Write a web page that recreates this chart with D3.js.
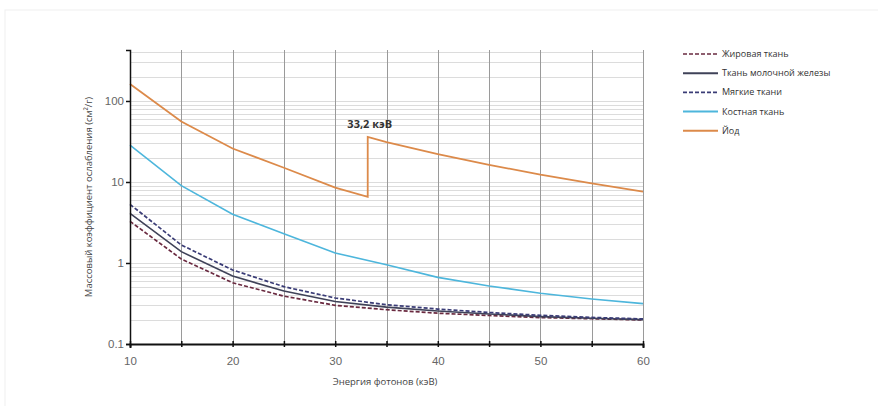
<!DOCTYPE html>
<html>
<head>
<meta charset="utf-8">
<script src="https://cdn.jsdelivr.net/npm/d3@7"></script>
<style>
    body { margin: 0; background: #fff; font-family: "Open Sans", "DejaVu Sans", sans-serif; }
    .grid-minor line { stroke: #dcdcdc; stroke-width: 1; }
    .grid-x line { stroke: #9a9a9a; stroke-width: 1; }
    .axis text { fill: #666; font-size: 11.5px; }
    .legend text { fill: #333; font-size: 9px; }
</style>
</head>
<body>
<div id="chart"></div>
<script>
// photon energies, keV
var energy = [10, 15, 20, 25, 30, 35, 40, 45, 50, 55, 60];
var adipose = [3.27, 1.12, 0.57, 0.39, 0.30, 0.265, 0.24, 0.225, 0.212, 0.205, 0.198];
var breast = [4.1, 1.38, 0.69, 0.45, 0.335, 0.285, 0.255, 0.235, 0.218, 0.208, 0.2];
var softTissue = [5.3, 1.67, 0.82, 0.51, 0.37, 0.305, 0.27, 0.245, 0.226, 0.213, 0.204];
var bone = [28.5, 9.0, 4.0, 2.3, 1.33, 0.95, 0.665, 0.52, 0.424, 0.36, 0.315];
// iodine with K-edge at 33.17 keV
var iodineEnergy = [10, 15, 20, 25, 30, 33.17, 33.17, 35, 40, 45, 50, 55, 60];
var iodine = [162, 55.7, 25.9, 15.0, 8.5, 6.55, 36.0, 31.0, 22.1, 16.3, 12.3, 9.6, 7.6];

var xTicks = [10, 20, 30, 40, 50, 60];
var yTicks = [0.1, 1, 10, 100];
var legendNames = ["Жировая ткань", "Ткань молочной железы", "Мягкие ткани", "Костная ткань", "Йод"];

var margin = {top: 50, left: 130},
    width = 513,
    height = 294;

var svg = d3.select("#chart")
    .append("svg")
    .attr("width", 878)
    .attr("height", 406);

// faint frame of the picture
svg.append("rect")
    .attr("x", 5).attr("y", 10)
    .attr("width", 880).attr("height", 400)
    .attr("fill", "none")
    .attr("stroke", "#f0f0f0");

var g = svg.append("g")
    .attr("transform", "translate(" + margin.left + "," + margin.top + ")");

var x = d3.scaleLinear()
    .domain([10, 60])
    .range([0, width]);

var y = d3.scaleLog()
    .domain([0.1, 426])
    .range([height, 0]);

// minor horizontal grid
var minor = [];
[0.1, 1, 10, 100].forEach(function (d) {
    for (var k = 1; k <= 9; k++) {
        if (d * k <= 426 && d * k > 0.1) minor.push(d * k);
    }
});
g.append("g")
    .attr("class", "grid-minor")
    .selectAll("line")
    .data(minor)
    .enter()
    .append("line")
    .attr("x1", 0)
    .attr("x2", width)
    .attr("y1", function (d) { return Math.round(y(d)) + 0.5; })
    .attr("y2", function (d) { return Math.round(y(d)) + 0.5; });

// vertical grid every 5 keV
g.append("g")
    .attr("class", "grid-x")
    .selectAll("line")
    .data(d3.range(15, 61, 5))
    .enter()
    .append("line")
    .attr("x1", function (d) { return Math.round(x(d)) + 0.5; })
    .attr("x2", function (d) { return Math.round(x(d)) + 0.5; })
    .attr("y1", 0)
    .attr("y2", height);

var line = d3.line()
    .x(function (d) { return x(d[0]); })
    .y(function (d) { return y(d[1]); });

var series = [
    {name: legendNames[0], xs: energy, ys: adipose, color: "#6a2a40", dash: "4,2", w: 1.7},
    {name: legendNames[1], xs: energy, ys: breast, color: "#3f4258", dash: null, w: 1.6},
    {name: legendNames[2], xs: energy, ys: softTissue, color: "#3a3c76", dash: "4,2", w: 1.7},
    {name: legendNames[3], xs: energy, ys: bone, color: "#4db6dc", dash: null, w: 1.6},
    {name: legendNames[4], xs: iodineEnergy, ys: iodine, color: "#dc8a4a", dash: null, w: 1.8}
];

series.forEach(function (s) {
    g.append("path")
        .datum(d3.zip(s.xs, s.ys))
        .attr("fill", "none")
        .attr("stroke", s.color)
        .attr("stroke-width", s.w)
        .attr("stroke-dasharray", s.dash)
        .attr("d", line);
});

// axes
var xAxis = g.append("g")
    .attr("class", "axis")
    .attr("transform", "translate(0," + height + ")")
    .call(d3.axisBottom(x)
        .tickValues(d3.range(10, 61, 5))
        .tickSize(4)
        .tickFormat(function (d) { return xTicks.indexOf(d) >= 0 ? d : ""; }));
xAxis.select(".domain").attr("stroke", "#111").attr("stroke-width", 2);
xAxis.selectAll(".tick line").attr("stroke", "#111").attr("stroke-width", 1.5)
    .attr("y1", -3).attr("y2", 3);
xAxis.selectAll("text").attr("dy", "1.2em");

var yAxis = g.append("g")
    .attr("class", "axis")
    .call(d3.axisLeft(y)
        .tickValues(yTicks)
        .tickSize(4)
        .tickFormat(function (d) { return d; }));
yAxis.select(".domain").attr("stroke", "#111").attr("stroke-width", 1.5);
yAxis.selectAll(".tick line").attr("stroke", "#111").attr("stroke-width", 1.5);
yAxis.selectAll("text").attr("x", -6);

// axis titles
svg.append("text")
    .attr("transform", "rotate(-90)")
    .attr("x", -197)
    .attr("y", 92)
    .attr("text-anchor", "middle")
    .style("font-size", "9.5px")
    .style("fill", "#444")
    .text("Массовый коэффициент ослабления (см²/г)");

svg.append("text")
    .attr("x", 385)
    .attr("y", 385)
    .attr("text-anchor", "middle")
    .style("font-size", "9.5px")
    .style("fill", "#444")
    .text("Энергия фотонов (кэВ)");

// K-edge annotation
g.append("text")
    .attr("x", x(33.17) + 2)
    .attr("y", y(36) - 9)
    .attr("text-anchor", "middle")
    .style("font-size", "11px")
    .style("font-weight", "bold")
    .style("fill", "#333")
    .text("33,2 кэВ");

// legend
var legend = svg.append("g")
    .attr("class", "legend")
    .attr("transform", "translate(683,54)");

series.forEach(function (s, i) {
    var row = legend.append("g").attr("transform", "translate(0," + (i * 19.2) + ")");
    row.append("line")
        .attr("x1", 0).attr("x2", 35)
        .attr("y1", 0).attr("y2", 0)
        .attr("stroke", s.color)
        .attr("stroke-width", s.dash ? 1.6 : 2)
        .attr("stroke-dasharray", s.dash);
    row.append("text")
        .attr("x", 39)
        .attr("y", 3)
        .text(s.name);
});
</script>
</body>
</html>
